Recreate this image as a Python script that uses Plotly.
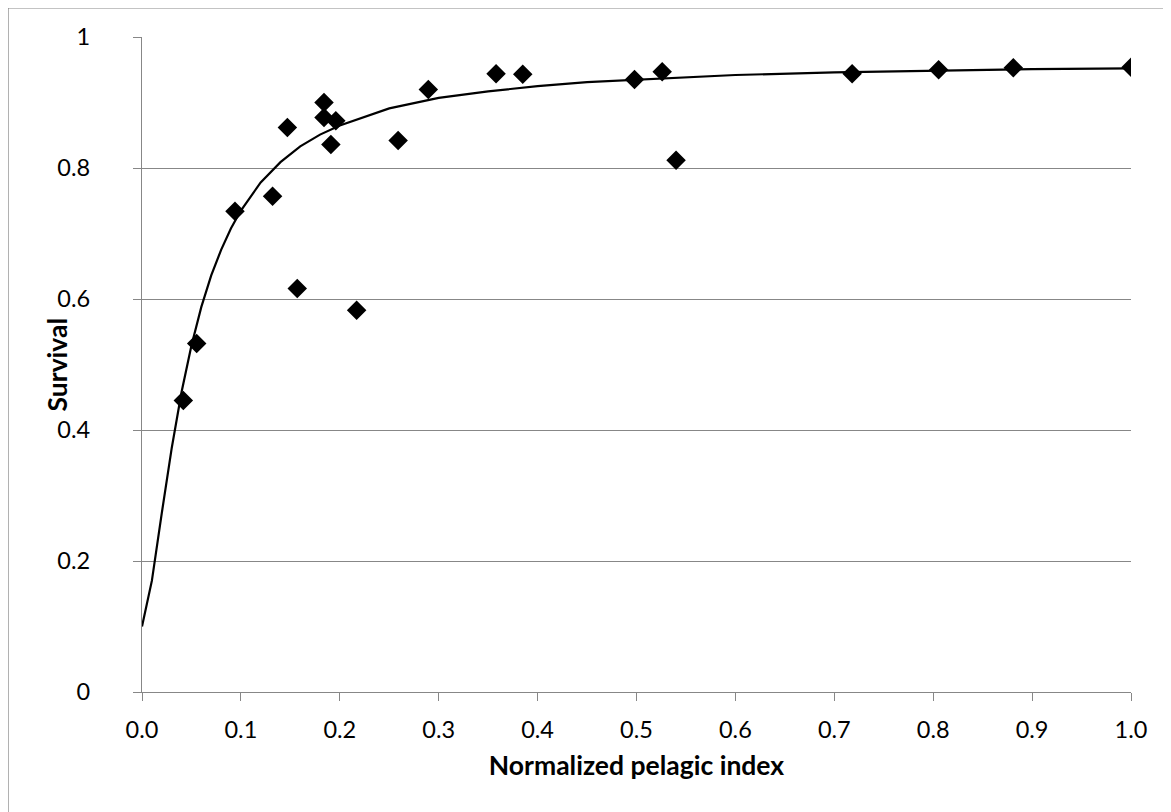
import plotly.graph_objects as go

# Observed data points
pelagic_index = [0.0418, 0.0553, 0.094, 0.132, 0.147, 0.157, 0.184, 0.184, 0.196, 0.191,
                 0.217, 0.259, 0.2895, 0.358, 0.385, 0.498, 0.526, 0.540, 0.718, 0.8055,
                 0.881, 1.0]
survival = [0.445, 0.532, 0.734, 0.757, 0.862, 0.616, 0.900, 0.877, 0.872, 0.836,
            0.583, 0.842, 0.920, 0.944, 0.943, 0.935, 0.947, 0.812, 0.944, 0.950,
            0.953, 0.954]

# Fitted curve
curve_x = [0.0, 0.01, 0.02, 0.03, 0.04, 0.05, 0.06, 0.07, 0.08, 0.09, 0.10, 0.12, 0.14,
           0.16, 0.18, 0.20, 0.25, 0.30, 0.35, 0.40, 0.45, 0.50, 0.60, 0.70, 0.80, 0.90, 1.0]
curve_y = [0.100, 0.170, 0.273, 0.372, 0.458, 0.529, 0.588, 0.636, 0.675, 0.708, 0.735,
           0.778, 0.809, 0.833, 0.851, 0.865, 0.891, 0.907, 0.917, 0.925, 0.931, 0.935,
           0.942, 0.946, 0.949, 0.951, 0.952]

x_ticks = [0.0, 0.1, 0.2, 0.3, 0.4, 0.5, 0.6, 0.7, 0.8, 0.9, 1.0]
y_ticks = [0, 0.2, 0.4, 0.6, 0.8, 1]

GRAY = "#878787"
FONT = "Lato"

fig = go.Figure()
fig.add_trace(go.Scatter(x=curve_x, y=curve_y, mode="lines",
                         line=dict(color="black", width=2.2), showlegend=False,
                         hoverinfo="skip"))
fig.add_trace(go.Scatter(x=pelagic_index, y=survival, mode="markers",
                         marker=dict(symbol="diamond", size=15, color="black",
                                     line=dict(width=0)),
                         showlegend=False))

fig.update_layout(
    width=1171, height=812,
    margin=dict(l=134, r=48, t=29, b=128, autoexpand=False),
    paper_bgcolor="white", plot_bgcolor="white",
    font=dict(family=FONT, size=23.5, color="black"),
    xaxis=dict(range=[0, 1], tickvals=x_ticks, tickformat=".1f",
               showgrid=False, zeroline=False, showline=True, linecolor=GRAY,
               linewidth=1.3, ticks="outside", ticklen=8, tickcolor=GRAY, tickwidth=1.3,
               ticklabelstandoff=9,
               title=dict(text="<b>Normalized pelagic index</b>", standoff=14,
                          font=dict(family=FONT, size=26.5))),
    yaxis=dict(range=[0, 1], tickvals=y_ticks,
               showgrid=True, gridcolor=GRAY, gridwidth=1.3, zeroline=False,
               showline=True, linecolor=GRAY, linewidth=1.3,
               ticks="outside", ticklen=8, tickcolor=GRAY, tickwidth=1.3,
               ticklabelstandoff=38),
    annotations=[dict(text="<b>Survival</b>", xref="paper", yref="paper",
                      x=(56 - 142) / 989, y=0.5, xanchor="center", yanchor="middle",
                      textangle=-90, showarrow=False,
                      font=dict(family=FONT, size=26.5, color="black"))],
    shapes=[dict(type="rect", xref="paper", yref="paper",
                 x0=(8 - 142) / 989, x1=1.08, y0=-0.22, y1=(691.7 - 7.5) / 655,
                 line=dict(color=GRAY, width=1.3), layer="below")],
)

fig.write_html("out.html")
